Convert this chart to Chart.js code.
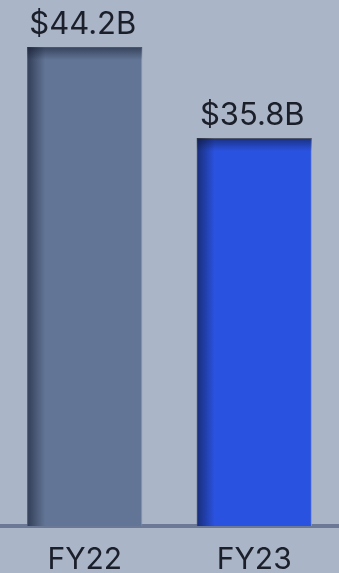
<!DOCTYPE html>
<html>
<head>
<meta charset="utf-8">
<script src="https://cdn.jsdelivr.net/npm/chart.js@4"></script>
<style>
  html, body { margin: 0; padding: 0; background: #aab5c8; }
  #wrap { width: 339px; height: 573px; position: relative; }
</style>
</head>
<body>
<div id="wrap"><canvas id="grafico"></canvas></div>
<script>
const categorias = ["FY22", "FY23"];
const valores = [44.2, 35.8]; // miles de millones USD
const etiquetasValor = ["$44.2B", "$35.8B"];

const coloresBarra = ["#627596", "#2a52e0"];
const FUENTE = "Inter, 'Noto Sans', sans-serif";

// sombra interior (izquierda + arriba) y etiqueta encima de cada barra
const sombraYEtiquetas = {
  id: "sombraYEtiquetas",
  afterDatasetsDraw(chart) {
    const ctx = chart.ctx;
    const meta = chart.getDatasetMeta(0);
    meta.data.forEach((bar, i) => {
      const izq = bar.x - bar.width / 2;
      const der = bar.x + bar.width / 2;
      const arriba = bar.y;
      const abajo = bar.base;
      ctx.save();
      ctx.beginPath();
      ctx.rect(izq, arriba, der - izq, abajo - arriba);
      ctx.clip();
      let g = ctx.createLinearGradient(izq, 0, izq + 18, 0);
      g.addColorStop(0, "rgba(10,15,35,0.55)");
      g.addColorStop(1, "rgba(10,15,35,0)");
      ctx.fillStyle = g;
      ctx.fillRect(izq, arriba, 18, abajo - arriba);
      g = ctx.createLinearGradient(0, arriba, 0, arriba + 13);
      g.addColorStop(0, "rgba(10,15,35,0.5)");
      g.addColorStop(1, "rgba(10,15,35,0)");
      ctx.fillStyle = g;
      ctx.fillRect(izq, arriba, der - izq, 13);
      ctx.restore();

      ctx.save();
      ctx.fillStyle = "#1b1f2a";
      ctx.font = `400 31px ${FUENTE}`;
      ctx.textAlign = "center";
      ctx.textBaseline = "alphabetic";
      ctx.fillText(etiquetasValor[i], bar.x - 2, arriba - 13);
      ctx.restore();
    });
  },
};

new Chart(document.getElementById("grafico"), {
  type: "bar",
  data: {
    labels: categorias,
    datasets: [
      {
        data: valores,
        backgroundColor: coloresBarra,
        borderColor: "#8d97ab",
        borderWidth: 1,
        borderSkipped: "bottom",
        barPercentage: 0.68,
        categoryPercentage: 1,
      },
    ],
  },
  options: {
    responsive: true,
    maintainAspectRatio: false,
    animation: false,
    layout: { padding: { top: 47, left: 0, right: 0, bottom: 0 } },
    scales: {
      x: {
        grid: { display: false, drawTicks: false },
        border: { display: true, color: "#6b7896", width: 4 },
        ticks: {
          color: "#1b1f2a",
          font: { family: FUENTE, size: 30, weight: "400" },
          padding: 16,
        },
        // alto fijo del eje para que la línea base quede donde va
        afterFit: (escala) => {
          escala.height = 47;
        },
      },
      y: {
        display: false,
        min: 0,
        max: 44.2,
      },
    },
    plugins: {
      legend: { display: false },
      tooltip: { enabled: false },
    },
  },
  plugins: [sombraYEtiquetas],
});
</script>
</body>
</html>
